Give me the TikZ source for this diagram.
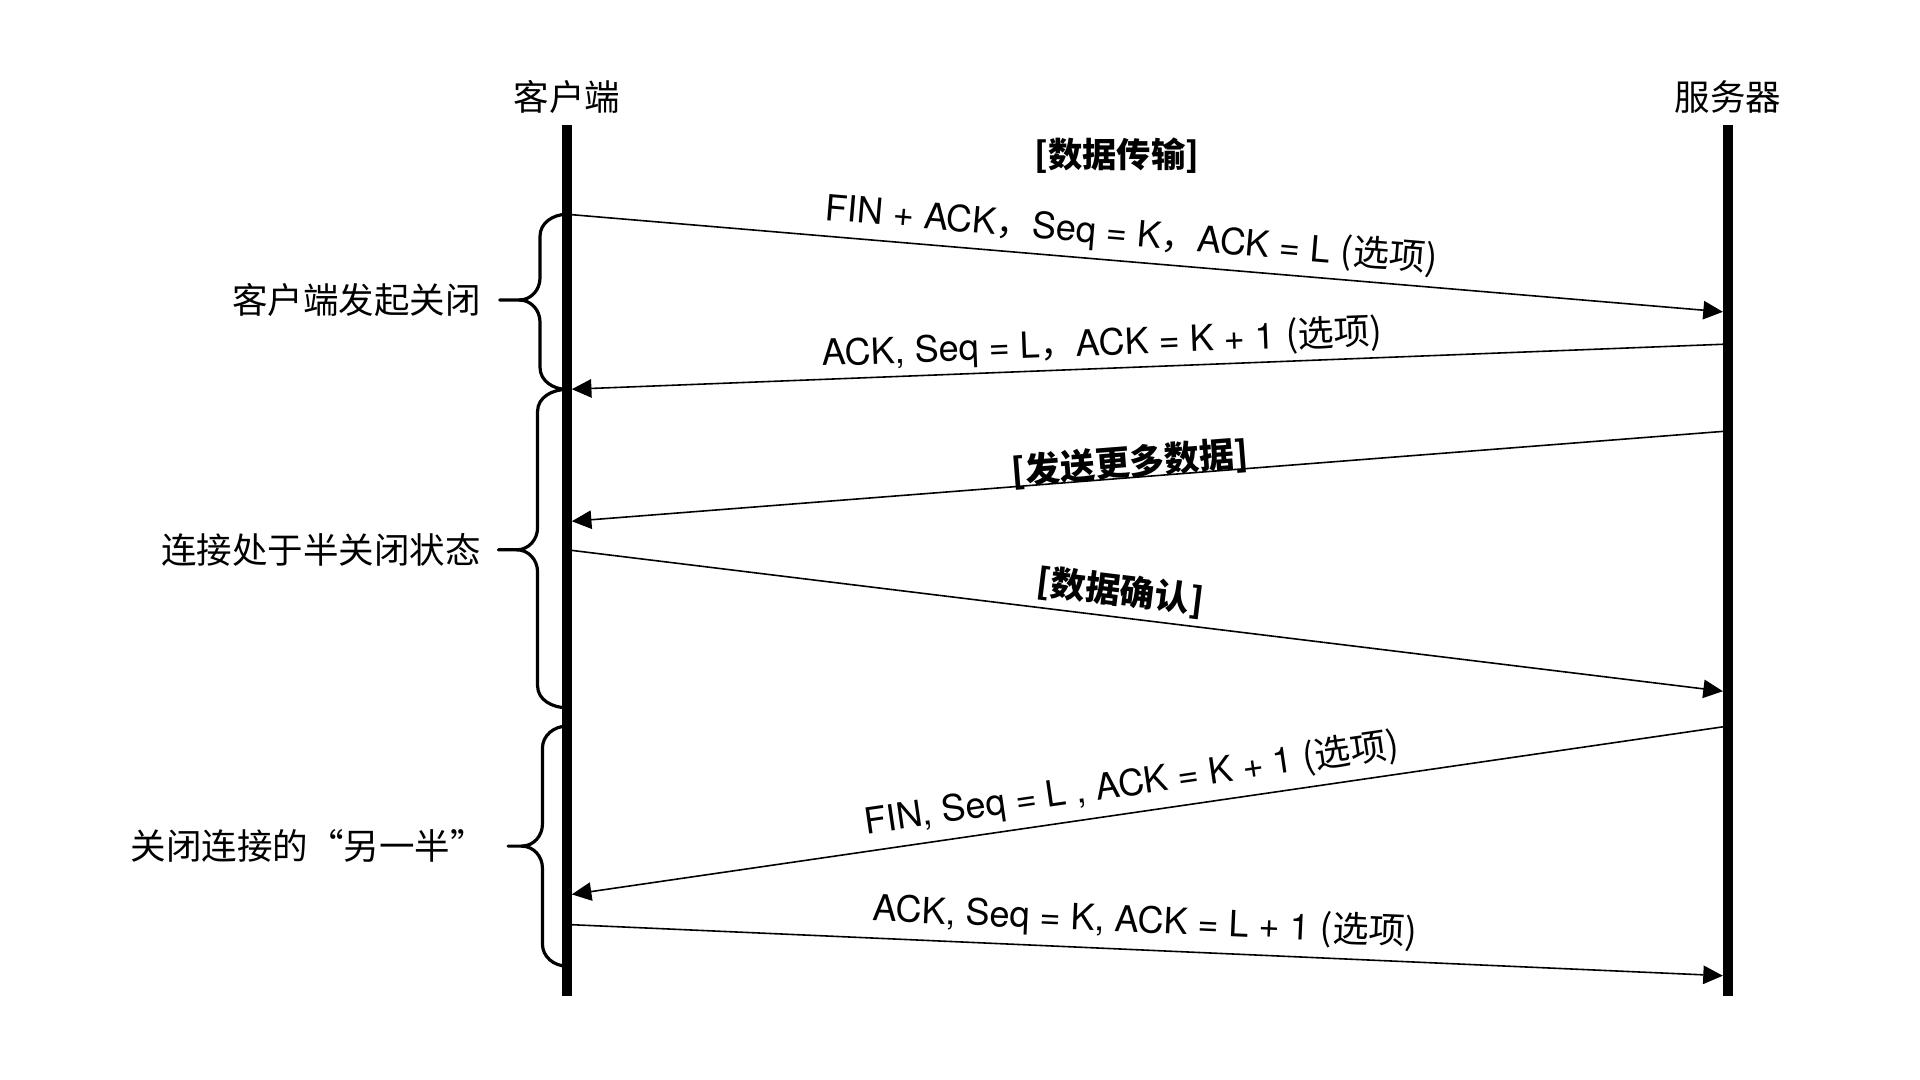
\documentclass[tikz,border=0pt]{standalone}
\usepackage{fontspec}
\setmainfont{TeX Gyre Heros}
\newfontfamily\cjk{Noto Sans CJK SC}
\usetikzlibrary{arrows.meta}
\newcommand\drawbrace[5]{%
  \draw[bracestyle] (463,#1) to[out=180,in=90] (#4,#1+18) -- (#4,#2-18)
     to[out=-90,in=0] (#4-17,#2) -- (#5,#2);
  \draw[bracestyle] (#4-17,#2) to[out=0,in=90] (#4,#2+18) -- (#4,#3-18)
     to[out=-90,in=180] (463,#3);}
\newcommand\lift[2]{\raisebox{#1pt}{#2}}
\begin{document}
\begin{tikzpicture}[x=1pt,y=-1pt,
  life/.style={line width=8pt},
  msg/.style={line width=1.3pt,-{Triangle[length=16pt,width=15pt]},shorten >=4pt},
  lbl/.style={sloped,anchor=base,inner sep=0pt,font=\fontsize{29.5}{34}\selectfont},
  blbl/.style={sloped,anchor=base,inner sep=0pt,font=\cjk\bfseries\fontsize{28.5}{32}\selectfont},
  bracestyle/.style={line width=2.6pt,line cap=round},
  side/.style={anchor=east,inner sep=0pt,font=\cjk\fontsize{29}{34}\selectfont},
  head/.style={inner sep=0pt,font=\cjk\fontsize{29}{34}\selectfont}]
\useasboundingbox (0,0) rectangle (1568,882);
% lifelines
\coordinate (ctop) at (463,102);
\coordinate (cbot) at (463,813);
\coordinate (stop) at (1411,102);
\coordinate (sbot) at (1411,813);
\draw[life] (ctop) -- (cbot);
\draw[life] (stop) -- (sbot);
\node[head] (client) at (463,79) {客户端};
\node[head] (server) at (1411,79) {服务器};
\node[head,font=\cjk\bfseries\fontsize{28}{32}\selectfont] (xfer) at (912,127) {[数据传输]};
% message end points
\coordinate (a1s) at (463,175);  \coordinate (a1e) at (1411,255);
\coordinate (a2s) at (1411,281); \coordinate (a2e) at (463,318);
\coordinate (a3s) at (1411,352); \coordinate (a3e) at (463,426);
\coordinate (a4s) at (463,449);  \coordinate (a4e) at (1411,565);
\coordinate (a5s) at (1411,593); \coordinate (a5e) at (463,731);
\coordinate (a6s) at (463,755);  \coordinate (a6e) at (1411,797);
\draw[msg] (a1s) -- node[lbl,pos=0.484] (l1) {\lift{13}{FIN + ACK{\cjk ，}Seq = K{\cjk ，}ACK = L {\cjk (选项)}}} (a1e);
\draw[msg] (a2s) -- node[lbl,pos=0.538] (l2) {\lift{11}{ACK, Seq = L{\cjk ，}ACK = K + 1 {\cjk (选项)}}} (a2e);
\draw[msg] (a3s) -- node[blbl,pos=0.514] (l3) {\lift{2}{[发送更多数据]}} (a3e);
\draw[msg] (a4s) -- node[blbl,pos=0.474] (l4) {\lift{11}{[数据确认]}} (a4e);
\draw[msg] (a5s) -- node[lbl,pos=0.51] (l5) {\lift{14}{FIN, Seq = L , ACK = K + 1 {\cjk (选项)}}} (a5e);
\draw[msg] (a6s) -- node[lbl,pos=0.497] (l6) {\lift{14}{ACK, Seq = K, ACK = L + 1 {\cjk (选项)}}} (a6e);
% braces
\drawbrace{175}{245}{318}{441}{408}
\drawbrace{318}{449}{578}{439}{407}
\drawbrace{593}{691}{789}{443}{415}
\node[side] (p1) at (393,245) {客户端发起关闭};
\node[side] (p2) at (393,449) {连接处于半关闭状态};
\node[side] (p3) at (397,691) {关闭连接的“另一半”};
\end{tikzpicture}
\end{document}
